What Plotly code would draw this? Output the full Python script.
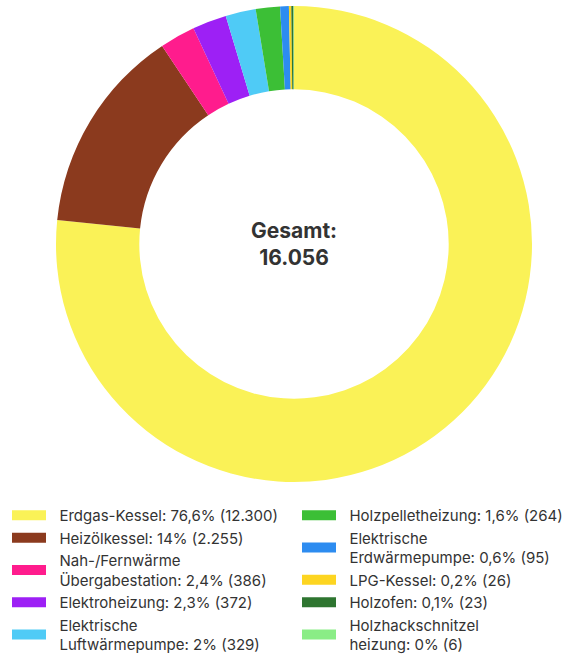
import plotly.graph_objects as go

categories = [
    "Erdgas-Kessel",
    "Heizölkessel",
    "Nah-/Fernwärme<br>Übergabestation",
    "Elektroheizung",
    "Elektrische<br>Luftwärmepumpe",
    "Holzpelletheizung",
    "Elektrische<br>Erdwärmepumpe",
    "LPG-Kessel",
    "Holzofen",
    "Holzhackschnitzel<br>heizung",
]
values = [12300, 2255, 386, 372, 329, 264, 95, 26, 23, 6]
colors = [
    "#FAF257", "#8B3A1E", "#FF1C8D", "#9D20F5", "#4FCBF6",
    "#3CBF36", "#2D8CF0", "#FDD521", "#2E7530", "#8AED86",
]

total = sum(values)
FONT = "Inter"
TEXT = "#333333"
PAD = "\u00a0\u00a0"


def de_int(v):
    return f"{v:,}".replace(",", ".")


def de_pct(v):
    p = round(v / total * 100, 1)
    s = f"{p:.1f}"
    if s.endswith(".0"):
        s = s[:-2]
    return s.replace(".", ",")


legend_text = [
    PAD + f"{c}: {de_pct(v)}% ({de_int(v)})".replace("<br>", "<br>" + PAD)
    for c, v in zip(categories, values)
]

fig = go.Figure()
fig.add_trace(go.Pie(
    labels=[c.replace("<br>", " ") for c in categories],
    values=values,
    marker=dict(colors=colors, line=dict(width=0)),
    sort=False,
    direction="clockwise",
    rotation=0,
    hole=0.65,
    textinfo="none",
    showlegend=False,
    domain=dict(x=[56 / 575, 532 / 575], y=[1 - 482 / 659, 1 - 6 / 659]),
))

for i, (txt, col) in enumerate(zip(legend_text, colors)):
    fig.add_trace(go.Scatter(
        x=[None], y=[None], mode="lines",
        line=dict(color=col, width=11),
        name=txt,
        legend="legend" if i < 5 else "legend2",
        showlegend=True,
    ))

legend_common = dict(
    orientation="v",
    yanchor="top",
    xanchor="left",
    font=dict(family=FONT, size=15, color=TEXT),
    bgcolor="rgba(0,0,0,0)",
    tracegroupgap=0,
    itemclick=False,
    itemwidth=34,
)

fig.update_layout(
    width=575,
    height=659,
    margin=dict(l=0, r=0, t=0, b=0, autoexpand=False),
    paper_bgcolor="white",
    plot_bgcolor="white",
    xaxis=dict(visible=False),
    yaxis=dict(visible=False),
    legend=dict(x=7 / 575, y=1 - 499 / 659, **legend_common),
    legend2=dict(x=297 / 575, y=1 - 499 / 659, **legend_common),
    annotations=[dict(
        text="<b>Gesamt:<br>16.056</b>",
        x=294 / 575, y=1 - 244 / 659, xref="paper", yref="paper",
        showarrow=False, font=dict(family=FONT, size=21, color=TEXT),
    )],
)

fig.write_html(
    "out.html",
    config={"displayModeBar": False},
    post_script="document.body.style.margin='0';",
)
